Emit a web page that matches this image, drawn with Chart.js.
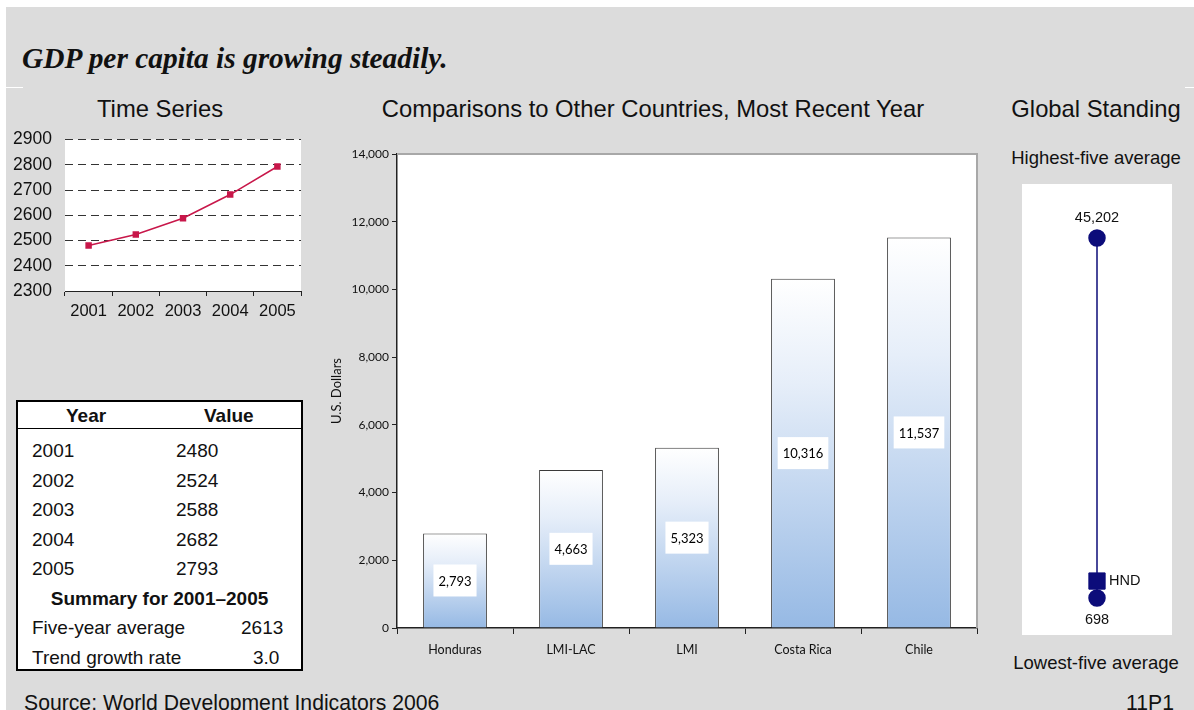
<!DOCTYPE html>
<html>
<head>
<meta charset="utf-8">
<script src="https://cdn.jsdelivr.net/npm/chart.js@4"></script>
<style>
  body { margin: 0; background: #fff; font-family: "Liberation Sans", Arial, sans-serif; color: #111; }
  #page { position: relative; width: 1194px; height: 710px; overflow: hidden; background: #fff; }
  #bg { position: absolute; left: 6px; top: 7px; right: 0; bottom: 0; background: #dcdcdc; }
  .abs { position: absolute; white-space: nowrap; line-height: 1; }
  .head { font-size: 23.8px; text-align: center; }
  #tsBox, #barBox, #gsBox { position: absolute; }
  #gsBox { background: #fff; }
  #tbl { position: absolute; left: 16px; top: 400px; width: 283px; height: 267px; border: 2px solid #000; background: #fff; font-size: 19px; }
  #tbl .row { position: absolute; left: 0; width: 100%; height: 29px; line-height: 29px; }
  #tbl .c1 { position: absolute; left: 14px; }
  #tbl .c2 { position: absolute; left: 158px; }
</style>
</head>
<body>
<div id="page">
  <div id="bg"></div>
  <div class="abs" style="left:6px;top:87px;width:17px;height:1px;background:#fff"></div>
  <div class="abs" style="left:1185px;top:87px;width:9px;height:1px;background:#fff"></div>

  <div class="abs" style="left:22px;top:44px;font-family:'Liberation Serif','Times New Roman',serif;font-weight:bold;font-style:italic;font-size:29.4px;">GDP per capita is growing steadily.</div>

  <div class="abs head" style="left:60px;width:200px;top:97px;">Time Series</div>
  <div class="abs head" style="left:353px;width:600px;top:97px;">Comparisons to Other Countries, Most Recent Year</div>
  <div class="abs head" style="left:996px;width:200px;top:97px;">Global Standing</div>

  <div id="tsBox" style="left:0;top:116px;width:310px;height:212px;"><canvas id="tsChart"></canvas></div>
  <div id="tbl"></div>

  <div id="barBox" style="left:320px;top:140px;width:670px;height:530px;"><canvas id="barChart"></canvas></div>

  <div class="abs" id="hiLabel" style="left:996px;width:200px;text-align:center;top:149px;font-size:18.5px;"></div>
  <div id="gsBox" style="left:1022px;top:184px;width:150px;height:451px;"><canvas id="gsChart"></canvas></div>
  <div class="abs" id="loLabel" style="left:996px;width:200px;text-align:center;top:654px;font-size:18.5px;"></div>

  <div class="abs" style="left:24px;top:692px;font-size:21.2px;">Source: World Development Indicators 2006</div>
  <div class="abs" style="left:1126px;top:692px;font-size:21.2px;">11P1</div>
</div>

<script>
// time series
const years = ["2001", "2002", "2003", "2004", "2005"];
const gdpValues = [2480, 2524, 2588, 2682, 2793];
const tsMin = 2300;
const tsMax = 2900;
const tsStep = 100;

// summary table
const fiveYearAverage = 2613;
const trendGrowthRate = "3.0";

// comparisons
const countries = ["Honduras", "LMI-LAC", "LMI", "Costa Rica", "Chile"];
const countryValues = [2793, 4663, 5323, 10316, 11537];
const barMax = 14000;
const barStep = 2000;

// global standing
const standingLabels = ["Highest-five average", "Lowest-five average"];
const standingValues = [45202, 698];
const countryCode = "HND";
const countryValue = 2793;

const sans = "'Liberation Sans', Arial, sans-serif";
const gill = "Lato, 'Liberation Sans', sans-serif";

const plotBg = {
  id: "plotBg",
  beforeDraw(chart, args, opts) {
    const a = chart.chartArea;
    const ctx = chart.ctx;
    ctx.save();
    ctx.fillStyle = opts.color || "#fff";
    ctx.fillRect(a.left, a.top, a.right - a.left, a.bottom - a.top);
    ctx.restore();
  }
};

// ---- time series line
new Chart(document.getElementById("tsChart"), {
  type: "line",
  data: {
    labels: years,
    datasets: [{
      data: gdpValues,
      borderColor: "#c8174a",
      backgroundColor: "#c8174a",
      borderWidth: 1.5,
      pointStyle: "rect",
      pointRadius: 3.5,
      tension: 0
    }]
  },
  options: {
    responsive: true,
    maintainAspectRatio: false,
    animation: false,
    layout: { padding: { top: 0, right: 9, left: 0, bottom: 0 } },
    plugins: { legend: { display: false }, tooltip: { enabled: false }, plotBg: { color: "#fff" } },
    scales: {
      x: {
        offset: true,
        afterFit: (s) => { s.height = 37; },
        grid: { offset: true, drawOnChartArea: false, drawTicks: true, tickLength: 5, color: "#222" },
        border: { display: true, color: "#222", width: 1 },
        ticks: { color: "#111", font: { family: sans, size: 16.5 }, padding: 6, maxRotation: 0 }
      },
      y: {
        min: tsMin,
        max: tsMax,
        afterFit: (s) => { s.width = 65; },
        grid: {
          drawTicks: false,
          color: (c) => (c.tick && c.tick.value === tsMin ? "rgba(0,0,0,0)" : "#333"),
          lineWidth: 1
        },
        border: { display: false, dash: [8, 5] },
        ticks: {
          stepSize: tsStep,
          autoSkip: false,
          color: "#111",
          font: { family: sans, size: 17.5 },
          padding: 13,
          callback: (v) => String(v)
        }
      }
    }
  },
  plugins: [plotBg]
});

// ---- summary table
(function () {
  const tbl = document.getElementById("tbl");
  let html = '<div class="row" style="top:0;height:26px;line-height:28px;font-weight:bold;border-bottom:1.5px solid #000">' +
    '<span style="position:absolute;left:48px">Year</span><span style="position:absolute;left:186px">Value</span></div>';
  let top = 34;
  for (let i = 0; i < years.length; i++) {
    html += '<div class="row" style="top:' + top + 'px"><span class="c1">' + years[i] + '</span><span class="c2">' + gdpValues[i] + '</span></div>';
    top += 29.5;
  }
  html += '<div class="row" style="top:' + top + 'px;text-align:center;font-weight:bold">Summary for ' + years[0] + '\u2013' + years[years.length - 1] + '</div>';
  top += 29.5;
  html += '<div class="row" style="top:' + top + 'px"><span class="c1">Five-year average</span><span style="position:absolute;left:223px">' + fiveYearAverage + '</span></div>';
  top += 29.5;
  html += '<div class="row" style="top:' + top + 'px"><span class="c1">Trend growth rate</span><span style="position:absolute;left:235px">' + trendGrowthRate + '</span></div>';
  tbl.innerHTML = html;
})();

// ---- comparison bars
const barLabels = {
  id: "barLabels",
  afterDatasetsDraw(chart) {
    const ctx = chart.ctx;
    const meta = chart.getDatasetMeta(0);
    ctx.save();
    ctx.font = "13px " + gill;
    ctx.textAlign = "center";
    ctx.textBaseline = "middle";
    meta.data.forEach((bar, i) => {
      const txt = countryValues[i].toLocaleString("en-US");
      const cy = (bar.y + bar.base) / 2;
      const w = ctx.measureText(txt).width + 10;
      const h = 32;
      ctx.fillStyle = "#fff";
      ctx.fillRect(bar.x - w / 2, cy - h / 2, w, h);
      ctx.fillStyle = "#000";
      ctx.fillText(txt, bar.x, cy + 1);
    });
    ctx.restore();
  }
};
const plotFrame = {
  id: "plotFrame",
  afterDraw(chart) {
    const a = chart.chartArea;
    const ctx = chart.ctx;
    ctx.save();
    ctx.strokeStyle = "#a8a8a8";
    ctx.lineWidth = 2;
    ctx.beginPath();
    ctx.moveTo(a.left, a.top);
    ctx.lineTo(a.right, a.top);
    ctx.lineTo(a.right, a.bottom);
    ctx.stroke();
    ctx.restore();
  }
};

new Chart(document.getElementById("barChart"), {
  type: "bar",
  data: {
    labels: countries,
    datasets: [{
      data: countryValues,
      borderColor: "#3a3a3a",
      borderWidth: 1,
      barPercentage: 0.55,
      categoryPercentage: 1,
      backgroundColor: (c) => {
        const chart = c.chart;
        if (!chart.chartArea || c.dataIndex === undefined) return "#c5d7ef";
        const y = chart.scales.y;
        const top = y.getPixelForValue(countryValues[c.dataIndex]);
        const bottom = y.getPixelForValue(0);
        const g = chart.ctx.createLinearGradient(0, top, 0, bottom);
        g.addColorStop(0, "#ffffff");
        g.addColorStop(0.3, "#e6eef9");
        g.addColorStop(1, "#96b9e4");
        return g;
      }
    }]
  },
  options: {
    responsive: true,
    maintainAspectRatio: false,
    animation: false,
    layout: { padding: { top: 14, right: 13, left: 0, bottom: 0 } },
    plugins: { legend: { display: false }, tooltip: { enabled: false }, plotBg: { color: "#fff" } },
    scales: {
      x: {
        afterFit: (s) => { s.height = 42; },
        grid: { offset: true, drawOnChartArea: false, tickLength: 6, color: "#222" },
        border: { color: "#222", width: 1.5 },
        ticks: { color: "#111", font: { family: gill, size: 12.5 }, padding: 8, maxRotation: 0 }
      },
      y: {
        min: 0,
        max: barMax,
        afterFit: (s) => { s.width = 77; },
        grid: { drawOnChartArea: false, tickLength: 5, color: "#222" },
        border: { color: "#222", width: 1.5 },
        ticks: {
          stepSize: barStep,
          color: "#111",
          font: { family: gill, size: 12 },
          padding: 3,
          callback: (v) => v.toLocaleString("en-US")
        },
        title: { display: true, text: "U.S. Dollars", color: "#111", font: { family: gill, size: 13 }, padding: { top: 9, bottom: 0 } }
      }
    }
  },
  plugins: [plotBg, barLabels, plotFrame]
});

// ---- global standing
document.getElementById("hiLabel").textContent = standingLabels[0];
document.getElementById("loLabel").textContent = standingLabels[1];

const gsLabels = {
  id: "gsLabels",
  afterDatasetsDraw(chart) {
    const ctx = chart.ctx;
    const ends = chart.getDatasetMeta(0).data;
    const mark = chart.getDatasetMeta(1).data[0];
    ctx.save();
    ctx.font = "14.5px " + sans;
    ctx.fillStyle = "#111";
    ctx.textAlign = "center";
    ctx.textBaseline = "middle";
    ctx.fillText(standingValues[0].toLocaleString("en-US"), ends[0].x, ends[0].y - 20);
    ctx.fillText(standingValues[1].toLocaleString("en-US"), ends[1].x, ends[1].y + 22);
    ctx.textAlign = "left";
    ctx.fillText(countryCode, mark.x + 12, mark.y);
    ctx.restore();
  }
};

new Chart(document.getElementById("gsChart"), {
  type: "scatter",
  data: {
    datasets: [
      {
        data: standingValues.map((v) => ({ x: 0.5, y: v })),
        showLine: true,
        borderColor: "#0c0c7a",
        backgroundColor: "#0c0c7a",
        borderWidth: 1.5,
        pointRadius: 8,
        order: 2
      },
      {
        data: [{ x: 0.5, y: countryValue }],
        pointStyle: "rect",
        pointRadius: 11.5,
        backgroundColor: "#0c0c7a",
        borderColor: "#0c0c7a",
        order: 1
      }
    ]
  },
  options: {
    responsive: true,
    maintainAspectRatio: false,
    animation: false,
    clip: false,
    layout: { padding: { top: 54, bottom: 37, left: 0, right: 8 } },
    plugins: { legend: { display: false }, tooltip: { enabled: false } },
    scales: {
      x: { display: false, min: 0, max: 1 },
      y: { display: false, min: standingValues[1], max: standingValues[0] }
    }
  },
  plugins: [gsLabels]
});
</script>
</body>
</html>
